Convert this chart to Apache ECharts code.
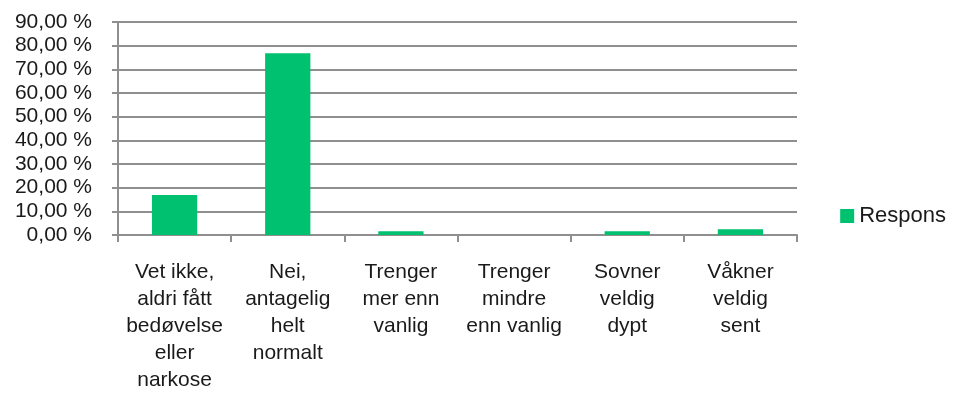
<!DOCTYPE html>
<html>
<head>
<meta charset="utf-8">
<script src="https://cdn.jsdelivr.net/npm/echarts@6/dist/echarts.min.js"></script>
<style>
  html, body { margin: 0; padding: 0; background: #fff; }
  #main { width: 953px; height: 407px; }
</style>
</head>
<body>
<div id="main"></div>
<script>
var categories = [
  'Vet ikke,\naldri fått\nbedøvelse\neller\nnarkose',
  'Nei,\nantagelig\nhelt\nnormalt',
  'Trenger\nmer enn\nvanlig',
  'Trenger\nmindre\nenn vanlig',
  'Sovner\nveldig\ndypt',
  'Våkner\nveldig\nsent'
]
var respons = [16.9, 76.8, 1.6, 0, 1.6, 2.4]
var seriesName = 'Respons'

var myChart = echarts.init(document.getElementById('main'))
var fontFamily = 'Liberation Sans, Arial, sans-serif'
var gridColor = '#8f8f8f'
myChart.setOption({
  animation: false,
  grid: { left: 118, right: 156, top: 22, bottom: 172 },
  legend: {
    data: [{ name: seriesName, icon: 'rect' }],
    right: 2,
    top: 200,
    itemWidth: 14,
    itemHeight: 14,
    itemGap: 8,
    textStyle: { fontSize: 22, color: '#1a1a1a', fontFamily: fontFamily }
  },
  xAxis: {
    type: 'category',
    data: categories,
    axisLine: { lineStyle: { color: gridColor, width: 2 } },
    axisTick: { show: true, length: 7, lineStyle: { color: gridColor, width: 2 } },
    axisLabel: {
      interval: 0,
      margin: 24,
      fontSize: 21,
      lineHeight: 27,
      color: '#1a1a1a',
      fontFamily: fontFamily
    }
  },
  yAxis: {
    type: 'value',
    min: 0,
    max: 90,
    interval: 10,
    axisLine: { show: true, lineStyle: { color: gridColor, width: 2 } },
    axisTick: { show: true, length: 6, lineStyle: { color: gridColor, width: 2 } },
    splitLine: { lineStyle: { color: gridColor, width: 2 } },
    axisLabel: {
      margin: 26,
      fontSize: 21,
      color: '#1a1a1a',
      fontFamily: fontFamily,
      formatter: function (v) { return v.toFixed(2).replace('.', ',') + ' %' }
    }
  },
  series: [
    {
      name: seriesName,
      type: 'bar',
      data: respons,
      barWidth: '40%',
      itemStyle: { color: '#00c170' }
    }
  ]
})
</script>
</body>
</html>
